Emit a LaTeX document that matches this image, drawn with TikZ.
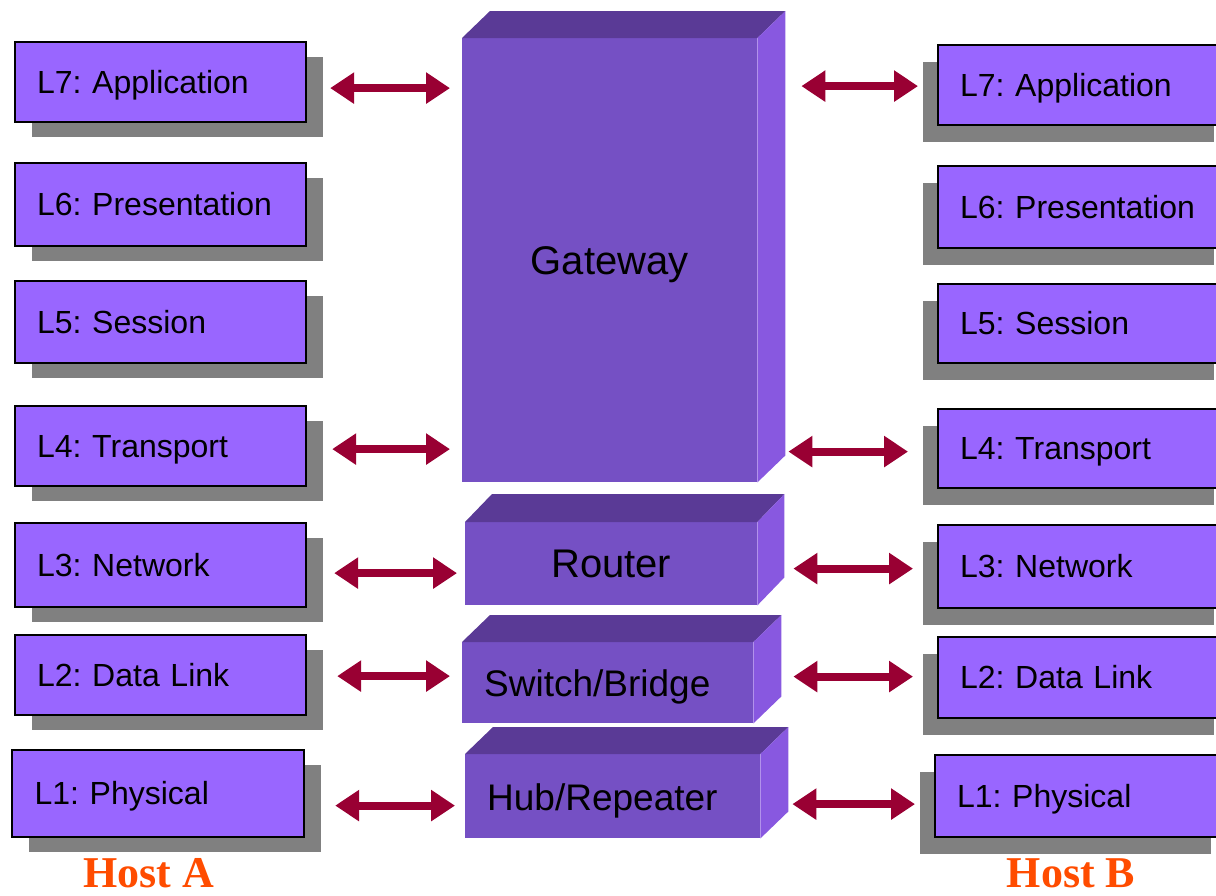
\documentclass[tikz,border=0pt]{standalone}
\usepackage{fontspec}
\setmainfont{Liberation Sans}
\newfontfamily\hostfont{Liberation Serif}
\usetikzlibrary{arrows.meta,shadows,calc}
\frenchspacing

\definecolor{layerfill}{HTML}{9966FF}
\definecolor{linkred}{HTML}{990033}
\definecolor{blockfront}{HTML}{7550C4}
\definecolor{blocktop}{HTML}{5A3A96}
\definecolor{blockside}{HTML}{8858E0}
\definecolor{hostorange}{HTML}{FF4C00}

% top and right faces of a box whose front face is node #1, depth (#2,#3)
\newcommand\blockfaces[3]{%
  \fill[blocktop] (#1.north west) -- ++(#2,-#3) -- ($(#1.north east)+(#2,-#3)$) -- (#1.north east) -- cycle;
  \fill[blockside] (#1.north east) -- ++(#2,-#3) -- ($(#1.south east)+(#2,-#3)$) -- (#1.south east) -- cycle;}

\begin{document}
\begin{tikzpicture}[x=1pt,y=-1pt,
  layer/.style={draw=black, line width=2.2pt, fill=layerfill, anchor=north west,
    font=\fontsize{32}{36}\selectfont, text height=22pt, text depth=0pt,
    inner xsep=22pt, text width=247pt, align=left, minimum width=291pt},
  layerA/.style={layer, drop shadow={shadow xshift=17pt, shadow yshift=-15pt, fill=black!50, opacity=1}},
  layerB/.style={layer, drop shadow={shadow xshift=-15pt, shadow yshift=-17pt, fill=black!50, opacity=1}},
  front/.style={fill=blockfront, anchor=north west, inner sep=0pt, text height=28pt, text depth=0pt},
  bigtext/.style={font=\fontsize{40}{44}\selectfont},
  smalltext/.style={font=\fontsize{37}{40}\selectfont, align=left, inner xsep=22pt},
  link/.style={line width=8pt, linkred, {Triangle[length=24pt,width=30pt]}-{Triangle[length=24pt,width=30pt]}},
  host/.style={font=\hostfont\bfseries\fontsize{44}{44}\selectfont, text=hostorange, anchor=base, inner sep=0pt}]

\useasboundingbox (0,0) rectangle (1216,895);
\clip (0,0) rectangle (1216,895);

% Host A stack
\node[layerA, minimum height=80pt] (A7) at (14,41)  {L7: Application};
\node[layerA, minimum height=83pt] (A6) at (14,162) {L6: Presentation};
\node[layerA, minimum height=82pt] (A5) at (14,280) {L5: Session};
\node[layerA, minimum height=80pt] (A4) at (14,405) {L4: Transport};
\node[layerA, minimum height=84pt] (A3) at (14,522) {L3: Network};
\node[layerA, minimum height=80pt] (A2) at (14,634) {L2: Data Link};
\node[layerA, minimum height=87pt, minimum width=292pt] (A1) at (11,749) {L1: Physical};

% Host B stack
\node[layerB, minimum height=80pt] (B7) at (937,44)  {L7: Application};
\node[layerB, minimum height=82pt] (B6) at (937,165) {L6: Presentation};
\node[layerB, minimum height=79pt] (B5) at (937,283) {L5: Session};
\node[layerB, minimum height=79pt] (B4) at (937,408) {L4: Transport};
\node[layerB, minimum height=83pt] (B3) at (937,524) {L3: Network};
\node[layerB, minimum height=81pt] (B2) at (937,636) {L2: Data Link};
\node[layerB, minimum height=82pt] (B1) at (934,754) {L1: Physical};

% interconnection devices
\node[front, bigtext, minimum width=295pt, minimum height=444pt] (gw) at (462,38) {Gateway};
\blockfaces{gw}{28}{27}
\node[front, bigtext, minimum width=292pt, minimum height=83pt] (rt) at (465,522) {Router};
\blockfaces{rt}{27}{28}
\node[front, smalltext, text width=247pt, minimum width=291pt, minimum height=81pt] (sw) at (462,642) {Switch/Bridge};
\blockfaces{sw}{28}{27}
\node[front, smalltext, text width=251pt, minimum width=295pt, minimum height=84pt] (hb) at (465,754) {Hub/Repeater};
\blockfaces{hb}{28}{27}

% peer links, Host A side
\draw[link] ($(A7.east)+(23,6)$) -- ($(A7.east -| gw.west)+(-12,6)$);
\draw[link] ($(A4.east)+(25,3)$) -- ($(A4.east -| gw.west)+(-12,3)$);
\draw[link] ($(A3.east)+(27,8)$) -- ($(A3.east -| rt.west)+(-8,8)$);
\draw[link] ($(A2.east)+(30,1)$) -- ($(A2.east -| sw.west)+(-12,1)$);
\draw[link] ($(A1.east)+(30,12)$) -- ($(A1.east -| hb.west)+(-10,12)$);

% peer links, Host B side
\draw[link] ($(B7.west -| gw.east)+(44,1)$) -- ($(B7.west)+(-19,1)$);
\draw[link] ($(B4.west -| gw.east)+(31,3)$) -- ($(B4.west)+(-29,3)$);
\draw[link] ($(B3.west -| rt.east)+(36,2)$) -- ($(B3.west)+(-24,2)$);
\draw[link] ($(B2.west -| sw.east)+(40,-1)$) -- ($(B2.west)+(-24,-1)$);
\draw[link] ($(B1.west -| hb.east)+(32,8)$) -- ($(B1.west)+(-19,8)$);

% host captions
\node[host] (hostA) at (149,887) {Host A};
\node[host] (hostB) at (1071,887) {Host B};
\end{tikzpicture}
\end{document}
